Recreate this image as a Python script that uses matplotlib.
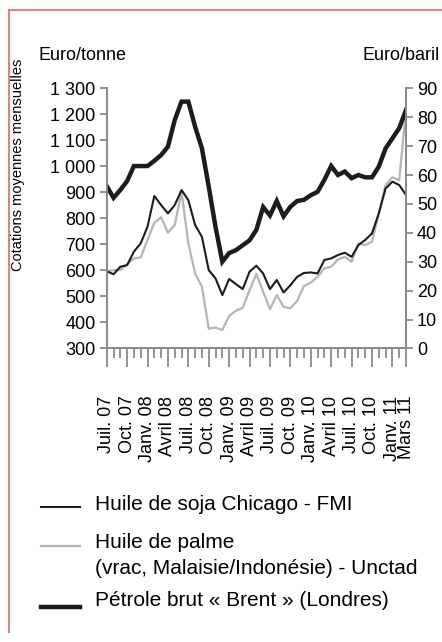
import matplotlib
matplotlib.use("Agg")
import matplotlib.pyplot as plt
from matplotlib.lines import Line2D
from matplotlib.ticker import FuncFormatter

plt.rcParams['font.family'] = ['Liberation Sans', 'DejaVu Sans']

# Monthly averages, July 2007 -> March 2011
months = list(range(45))
soja = [597, 585, 614, 620, 672, 704, 768, 886, 851, 819, 851, 909, 870, 774, 729,
        601, 569, 505, 567, 547, 528, 595, 618, 588, 528, 563, 515, 543, 575, 590,
        592, 588, 640, 646, 659, 668, 652, 697, 717, 742, 819, 915, 941, 928, 890]
palme = [597, 601, 601, 624, 646, 650, 717, 783, 804, 745, 774, 902, 704, 588, 537,
         376, 380, 371, 425, 445, 456, 524, 586, 518, 451, 505, 460, 454, 483, 540,
         553, 575, 608, 614, 642, 652, 633, 704, 697, 710, 819, 928, 958, 947, 1217]
brent = [56.2, 52.1, 54.8, 57.9, 63.1, 63.1, 63.1, 64.9, 66.9, 69.8, 79.0, 85.4, 85.4,
         76.7, 69.2, 56.0, 42.0, 30.0, 33.0, 34.0, 35.7, 37.4, 41.0, 48.9, 46.0, 51.0,
         45.7, 49.0, 51.0, 51.4, 53.0, 54.2, 58.3, 63.1, 60.0, 61.2, 58.9, 60.0, 59.2,
         59.2, 62.9, 69.2, 72.7, 76.2, 82.5]

tick_pos = [0, 3, 6, 9, 12, 15, 18, 21, 24, 27, 30, 33, 36, 39, 42, 44]
tick_labels = ["Juil. 07", "Oct. 07", "Janv. 08", "Avril 08", "Juil. 08", "Oct. 08",
               "Janv. 09", "Avril 09", "Juil. 09", "Oct. 09", "Janv. 10", "Avril 10",
               "Juil. 10", "Oct. 10", "Janv. 11", "Mars 11"]

W, H = 442, 642
fig = plt.figure(figsize=(W / 100, H / 100), dpi=100)
ax = fig.add_axes([106.7 / W, 1 - 348.4 / H, (406 - 106.7) / W, (348.4 - 88.3) / H])
ax2 = ax.twinx()

grey = "#8a8a8a"
ink = "#1c1c1c"
palm_grey = "#b5b5b5"

ax.plot(months, palme, color=palm_grey, lw=1.6, zorder=2)
ax.plot(months, soja, color=ink, lw=1.5, zorder=3)
ax2.plot(months, brent, color=ink, lw=3.2, solid_joinstyle="miter")

ax.set_xlim(0, 44)
ax.set_ylim(300, 1300)
ax2.set_ylim(0, 90)
ax.set_yticks(range(300, 1301, 100))
ax2.set_yticks(range(0, 91, 10))
ax.yaxis.set_major_formatter(FuncFormatter(lambda v, p: f"{int(v):,}".replace(",", " ")))

ax.set_xticks(tick_pos)
ax.set_xticklabels(tick_labels, rotation=90)
ax.set_xticks(months, minor=True)

for a in (ax, ax2):
    a.spines["top"].set_visible(False)
    for s in ("left", "right", "bottom"):
        a.spines[s].set_color(grey)
        a.spines[s].set_linewidth(1.3)
    a.tick_params(colors=grey, labelcolor="black", labelsize=13, width=1.3)
    a.patch.set_visible(False)

ax.tick_params(axis="y", length=5, pad=3)
ax2.tick_params(axis="y", length=5, pad=3)
ax.tick_params(axis="x", which="major", length=14, pad=20)
ax.tick_params(axis="x", which="minor", length=7.5, width=1.3, color=grey)

fig.text(38 / W, 1 - 56 / H, "Euro/tonne", fontsize=13, va="center", ha="left")
fig.text(440 / W, 1 - 56 / H, "Euro/baril", fontsize=13, va="center", ha="right")
fig.text(18 / W, 1 - 165 / H, "Cotations moyennes mensuelles", fontsize=10.5,
         rotation=90, va="center", ha="center")

# legend drawn by hand, below the chart
def leg_line(y, color, lw):
    fig.add_artist(Line2D([41 / W, 80 / W], [1 - y / H, 1 - y / H], color=color, lw=lw))

leg_size = 15
leg_line(507, ink, 1.5)
fig.text(95 / W, 1 - 505 / H, "Huile de soja Chicago - FMI", fontsize=leg_size, va="center")
leg_line(546, palm_grey, 1.6)
fig.text(95 / W, 1 - 543 / H, "Huile de palme", fontsize=leg_size, va="center")
fig.text(95 / W, 1 - 568 / H, "(vrac, Malaisie/Indonésie) - Unctad", fontsize=leg_size, va="center")
leg_line(607, ink, 3.2)
fig.text(95 / W, 1 - 601 / H, "Pétrole brut « Brent » (Londres)", fontsize=leg_size, va="center")

# frame on top and left edges
border = "#d98585"
fig.add_artist(Line2D([9 / W, 9 / W], [1 - 632 / H, 1 - 10 / H], color=border, lw=1.5))
fig.add_artist(Line2D([9 / W, 1], [1 - 10 / H, 1 - 10 / H], color=border, lw=1.5))

fig.savefig("out.png", dpi=100)
